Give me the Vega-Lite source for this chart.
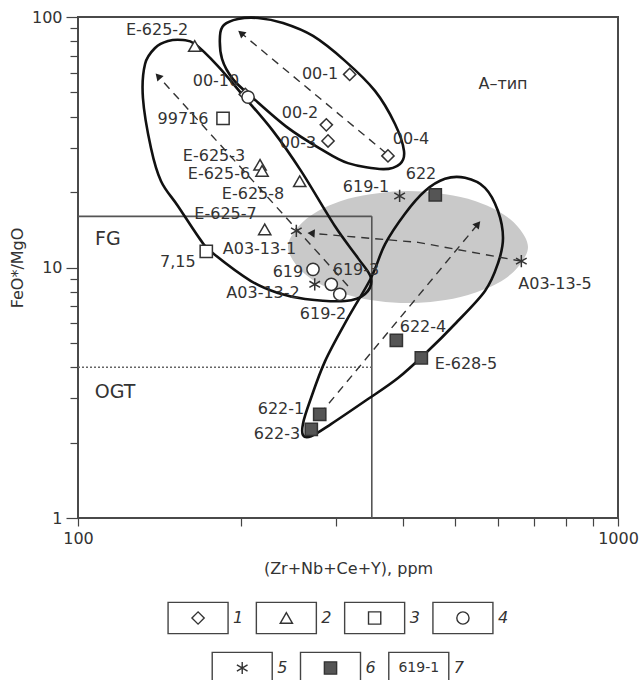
{
  "$schema": "https://vega.github.io/schema/vega-lite/v6.json",
  "padding": {"left": 8, "top": 8, "right": 0, "bottom": 0},
  "autosize": {"type": "pad"},
  "bounds": "flush",
  "spacing": 83,
  "config": {"font": "DejaVu Sans", "text": {"font": "DejaVu Sans", "color": "#333"}},
  "datasets": {
    "pts": [
      {"name": "00-1", "x": 318.5, "y": 59.0, "grp": "1"},
      {"name": "00-2", "x": 288.3, "y": 37.1, "grp": "1"},
      {"name": "00-3", "x": 290.4, "y": 32.0, "grp": "1"},
      {"name": "00-4", "x": 375.0, "y": 27.9, "grp": "1"},
      {"name": "00-10", "x": 204.1, "y": 49.1, "grp": "1"},
      {"name": "E-625-2", "x": 164.5, "y": 76.6, "grp": "2"},
      {"name": "E-625-3", "x": 217.3, "y": 25.7, "grp": "2"},
      {"name": "E-625-6", "x": 219.2, "y": 24.3, "grp": "2"},
      {"name": "E-625-8", "x": 257.4, "y": 22.1, "grp": "2"},
      {"name": "E-625-7", "x": 221.7, "y": 14.2, "grp": "2"},
      {"name": "99716", "x": 185.6, "y": 39.4, "grp": "3"},
      {"name": "7,15", "x": 172.8, "y": 11.6, "grp": "3"},
      {"name": "619", "x": 272.4, "y": 9.83, "grp": "4"},
      {"name": "619-2a", "x": 294.5, "y": 8.57, "grp": "4"},
      {"name": "619-2b", "x": 305.3, "y": 7.82, "grp": "4"},
      {"name": "00-10c", "x": 206.5, "y": 47.9, "grp": "4"},
      {"name": "619-1", "x": 394.1, "y": 19.3, "grp": "5"},
      {"name": "A03-13-1", "x": 253.7, "y": 14.0, "grp": "5"},
      {"name": "A03-13-5", "x": 662.2, "y": 10.6, "grp": "5"},
      {"name": "A03-13-2", "x": 274.4, "y": 8.57, "grp": "5"},
      {"name": "622", "x": 458.8, "y": 19.5, "grp": "6"},
      {"name": "622-4", "x": 388.6, "y": 5.12, "grp": "6"},
      {"name": "E-628-5", "x": 432.3, "y": 4.36, "grp": "6"},
      {"name": "622-1", "x": 280.3, "y": 2.59, "grp": "6"},
      {"name": "622-3", "x": 270.4, "y": 2.26, "grp": "6"}
    ],
    "lbl": [
      {"t": "E-625-2", "x": 140.1, "y": 88.7},
      {"t": "00-10", "x": 180.1, "y": 55.5},
      {"t": "99716", "x": 156.5, "y": 39.2},
      {"t": "E-625-3", "x": 178.6, "y": 27.9},
      {"t": "E-625-6", "x": 182.4, "y": 23.6},
      {"t": "E-625-8", "x": 210.9, "y": 19.7},
      {"t": "E-625-7", "x": 187.6, "y": 16.4},
      {"t": "A03-13-1", "x": 216.8, "y": 11.9},
      {"t": "7,15", "x": 153.1, "y": 10.5},
      {"t": "619", "x": 244.8, "y": 9.59},
      {"t": "619-3", "x": 327.2, "y": 9.77},
      {"t": "A03-13-2", "x": 220.1, "y": 7.91},
      {"t": "619-2", "x": 284.3, "y": 6.52},
      {"t": "00-1", "x": 280.7, "y": 59.2},
      {"t": "00-2", "x": 257.7, "y": 41.4},
      {"t": "00-3", "x": 255.5, "y": 31.4},
      {"t": "00-4", "x": 413.7, "y": 32.6},
      {"t": "622", "x": 431.7, "y": 23.6},
      {"t": "619-1", "x": 341.5, "y": 20.96},
      {"t": "A03-13-5", "x": 764.3, "y": 8.59},
      {"t": "622-4", "x": 435.4, "y": 5.79},
      {"t": "E-628-5", "x": 523.1, "y": 4.12},
      {"t": "622-1", "x": 237.6, "y": 2.72},
      {"t": "622-3", "x": 233.6, "y": 2.16}
    ],
    "big": [
      {"t": "FG", "x": 113.6, "y": 13.0},
      {"t": "OGT", "x": 117.1, "y": 3.18}
    ],
    "typ": [
      {"t": "A–тип", "x": 612.4, "y": 54.0}
    ],
    "ell": [
      {"id": "A", "o": 1, "x": 183.2, "y": 84.0},
      {"id": "A", "o": 2, "x": 186.3, "y": 92.9},
      {"id": "A", "o": 3, "x": 197.8, "y": 98.2},
      {"id": "A", "o": 4, "x": 215.4, "y": 99.1},
      {"id": "A", "o": 5, "x": 239.7, "y": 94.6},
      {"id": "A", "o": 6, "x": 272.4, "y": 84.0},
      {"id": "A", "o": 7, "x": 312.2, "y": 66.8},
      {"id": "A", "o": 8, "x": 354.8, "y": 50.7},
      {"id": "A", "o": 9, "x": 386.4, "y": 37.4},
      {"id": "A", "o": 10, "x": 401.5, "y": 29.2},
      {"id": "A", "o": 11, "x": 394.7, "y": 25.9},
      {"id": "A", "o": 12, "x": 367.2, "y": 24.7},
      {"id": "A", "o": 13, "x": 316.2, "y": 26.1},
      {"id": "A", "o": 14, "x": 281.8, "y": 29.7},
      {"id": "A", "o": 15, "x": 244.8, "y": 36.1},
      {"id": "A", "o": 16, "x": 210.9, "y": 47.5},
      {"id": "A", "o": 17, "x": 193.6, "y": 56.5},
      {"id": "A", "o": 18, "x": 184.8, "y": 68.0},
      {"id": "B", "o": 1, "x": 164.7, "y": 78.0},
      {"id": "B", "o": 2, "x": 156.5, "y": 80.9},
      {"id": "B", "o": 3, "x": 146.8, "y": 80.2},
      {"id": "B", "o": 4, "x": 138.9, "y": 75.2},
      {"id": "B", "o": 5, "x": 133.1, "y": 64.9},
      {"id": "B", "o": 6, "x": 131.9, "y": 47.5},
      {"id": "B", "o": 7, "x": 136.5, "y": 30.0},
      {"id": "B", "o": 8, "x": 142.5, "y": 22.1},
      {"id": "B", "o": 9, "x": 153.1, "y": 17.6},
      {"id": "B", "o": 10, "x": 169.0, "y": 12.8},
      {"id": "B", "o": 11, "x": 177.8, "y": 11.4},
      {"id": "B", "o": 12, "x": 209.1, "y": 8.83},
      {"id": "B", "o": 13, "x": 234.6, "y": 7.91},
      {"id": "B", "o": 14, "x": 263.3, "y": 7.49},
      {"id": "B", "o": 15, "x": 312.2, "y": 7.35},
      {"id": "B", "o": 16, "x": 340.1, "y": 7.84},
      {"id": "B", "o": 17, "x": 348.8, "y": 9.08},
      {"id": "B", "o": 18, "x": 330.0, "y": 10.9},
      {"id": "B", "o": 19, "x": 299.2, "y": 14.6},
      {"id": "B", "o": 20, "x": 258.8, "y": 24.3},
      {"id": "B", "o": 21, "x": 229.6, "y": 35.1},
      {"id": "B", "o": 22, "x": 200.4, "y": 49.7},
      {"id": "B", "o": 23, "x": 181.6, "y": 63.7},
      {"id": "C", "o": 1, "x": 348.8, "y": 9.08},
      {"id": "C", "o": 2, "x": 370.4, "y": 12.4},
      {"id": "C", "o": 3, "x": 403.2, "y": 16.4},
      {"id": "C", "o": 4, "x": 439.1, "y": 20.2},
      {"id": "C", "o": 5, "x": 478.2, "y": 22.6},
      {"id": "C", "o": 6, "x": 520.9, "y": 22.8},
      {"id": "C", "o": 7, "x": 567.1, "y": 20.8},
      {"id": "C", "o": 8, "x": 599.5, "y": 16.8},
      {"id": "C", "o": 9, "x": 612.4, "y": 13.1},
      {"id": "C", "o": 10, "x": 599.5, "y": 10.4},
      {"id": "C", "o": 11, "x": 567.1, "y": 8.06},
      {"id": "C", "o": 12, "x": 499.0, "y": 5.95},
      {"id": "C", "o": 13, "x": 444.7, "y": 4.64},
      {"id": "C", "o": 14, "x": 391.4, "y": 3.62},
      {"id": "C", "o": 15, "x": 340.1, "y": 2.93},
      {"id": "C", "o": 16, "x": 294.1, "y": 2.37},
      {"id": "C", "o": 17, "x": 270.2, "y": 2.12},
      {"id": "C", "o": 18, "x": 261.1, "y": 2.14},
      {"id": "C", "o": 19, "x": 261.1, "y": 2.39},
      {"id": "C", "o": 20, "x": 268.9, "y": 2.93},
      {"id": "C", "o": 21, "x": 286.8, "y": 4.23},
      {"id": "C", "o": 22, "x": 316.2, "y": 6.29}
    ],
    "grey": [
      {"o": 1, "x": 681.3, "y": 12.07},
      {"o": 2, "x": 652.9, "y": 14.5},
      {"o": 3, "x": 599.5, "y": 16.8},
      {"o": 4, "x": 527.6, "y": 18.8},
      {"o": 5, "x": 464.2, "y": 19.8},
      {"o": 6, "x": 408.4, "y": 20.2},
      {"o": 7, "x": 359.4, "y": 19.8},
      {"o": 8, "x": 316.2, "y": 18.8},
      {"o": 9, "x": 278.3, "y": 16.8},
      {"o": 10, "x": 255.5, "y": 14.5},
      {"o": 11, "x": 244.8, "y": 12.07},
      {"o": 12, "x": 255.5, "y": 10.05},
      {"o": 13, "x": 278.3, "y": 8.67},
      {"o": 14, "x": 316.2, "y": 7.77},
      {"o": 15, "x": 359.4, "y": 7.35},
      {"o": 16, "x": 408.4, "y": 7.21},
      {"o": 17, "x": 464.2, "y": 7.35},
      {"o": 18, "x": 527.6, "y": 7.77},
      {"o": 19, "x": 599.5, "y": 8.67},
      {"o": 20, "x": 652.9, "y": 10.05}
    ],
    "bnd": [
      {"seg": "fg", "x": 100, "y": 16},
      {"seg": "fg", "x": 350, "y": 16},
      {"seg": "v", "x": 350, "y": 1},
      {"seg": "v", "x": 350, "y": 16}
    ],
    "ogt": [
      {"seg": "ogt", "x": 100, "y": 4},
      {"seg": "ogt", "x": 350, "y": 4}
    ],
    "arr": [
      {"id": "a1", "o": 1, "x": 371.9, "y": 28.6},
      {"id": "a1", "o": 2, "x": 200.4, "y": 86.3},
      {"id": "a2", "o": 1, "x": 316.2, "y": 8.44},
      {"id": "a2", "o": 2, "x": 140.7, "y": 58.1},
      {"id": "a3", "o": 1, "x": 662.2, "y": 10.6},
      {"id": "a3", "o": 2, "x": 426.3, "y": 12.6},
      {"id": "a3", "o": 3, "x": 270.2, "y": 13.7},
      {"id": "a4", "o": 1, "x": 280.7, "y": 2.6},
      {"id": "a4", "o": 2, "x": 550.3, "y": 14.9}
    ],
    "heads": [
      {"id": "a1", "x": 200.4, "y": 86.3},
      {"id": "a2", "x": 140.7, "y": 58.1},
      {"id": "a3", "x": 270.2, "y": 13.7},
      {"id": "a4", "x": 550.3, "y": 14.9}
    ],
    "leg": [
      {"k": "1", "row": "a"},
      {"k": "2", "row": "a"},
      {"k": "3", "row": "a"},
      {"k": "4", "row": "a"},
      {"k": "5", "row": "b"},
      {"k": "6", "row": "b"},
      {"k": "7", "row": "b", "inner": "619-1"}
    ]
  },
  "vconcat": [
    {
      "width": 540,
      "height": 501,
      "view": {"stroke": "#4a4a4a", "strokeWidth": 2},
      "encoding": {
        "x": {
          "field": "x", "type": "quantitative",
          "scale": {"type": "log", "domain": [100, 1000], "nice": false},
          "axis": {
            "title": "(Zr+Nb+Ce+Y), ppm",
            "values": [100, 200, 300, 400, 500, 600, 700, 800, 900, 1000],
            "labelExpr": "datum.value == 100 ? '100' : (datum.value == 1000 ? '1000' : '')",
            "domain": false, "grid": false,
            "tickSize": 8, "tickColor": "#444", "tickWidth": 1.2,
            "labelFontSize": 16, "labelColor": "#333", "labelPadding": 4,
            "labelFlush": false, "labelOverlap": false, "labelBound": false,
            "titleFontSize": 16, "titleFontWeight": "normal", "titleColor": "#333", "titlePadding": 14
          }
        },
        "y": {
          "field": "y", "type": "quantitative",
          "scale": {"type": "log", "domain": [1, 100], "nice": false},
          "axis": {
            "title": "FeO*/MgO",
            "values": [1, 2, 3, 4, 5, 6, 7, 8, 9, 10, 20, 30, 40, 50, 60, 70, 80, 90, 100],
            "labelExpr": "datum.value == 1 ? '1' : (datum.value == 10 ? '10' : (datum.value == 100 ? '100' : ''))",
            "domain": false, "grid": false,
            "tickSize": {"condition": {"test": "datum.value == 1 || datum.value == 10 || datum.value == 100", "value": 12}, "value": 8},
            "tickColor": "#444", "tickWidth": 1.2,
            "labelFontSize": 16, "labelColor": "#333", "labelPadding": 4,
            "labelFlush": false, "labelOverlap": false, "labelBound": false,
            "titleFontSize": 16, "titleFontWeight": "normal", "titleColor": "#333", "titlePadding": 6
          }
        }
      },
      "layer": [
        {
          "data": {"name": "grey"},
          "mark": {"type": "line", "interpolate": "cardinal-closed", "fill": "#c9c9c9", "stroke": null, "strokeWidth": 0},
          "encoding": {"order": {"field": "o", "type": "quantitative"}}
        },
        {
          "data": {"name": "bnd"},
          "mark": {"type": "line", "color": "#555", "strokeWidth": 1.6},
          "encoding": {"detail": {"field": "seg"}}
        },
        {
          "data": {"name": "ogt"},
          "mark": {"type": "line", "color": "#666", "strokeWidth": 1.6, "strokeDash": [2, 2]},
          "encoding": {}
        },
        {
          "data": {"name": "ell"},
          "mark": {"type": "line", "interpolate": "cardinal-closed", "color": "#111", "strokeWidth": 2.6},
          "encoding": {"detail": {"field": "id"}, "order": {"field": "o", "type": "quantitative"}}
        },
        {
          "data": {"name": "arr"},
          "mark": {"type": "line", "color": "#333", "strokeWidth": 1.4, "strokeDash": [8, 6]},
          "encoding": {"detail": {"field": "id"}, "order": {"field": "o", "type": "quantitative"}}
        },
        {
          "data": {"name": "heads"},
          "transform": [{"filter": "datum.id == 'a1'"}],
          "mark": {"type": "point", "shape": "triangle-up", "filled": true, "color": "#222", "size": 70, "angle": 310, "opacity": 1}
        },
        {
          "data": {"name": "heads"},
          "transform": [{"filter": "datum.id == 'a2'"}],
          "mark": {"type": "point", "shape": "triangle-up", "filled": true, "color": "#222", "size": 70, "angle": 318, "opacity": 1}
        },
        {
          "data": {"name": "heads"},
          "transform": [{"filter": "datum.id == 'a3'"}],
          "mark": {"type": "point", "shape": "triangle-up", "filled": true, "color": "#222", "size": 70, "angle": 274, "opacity": 1}
        },
        {
          "data": {"name": "heads"},
          "transform": [{"filter": "datum.id == 'a4'"}],
          "mark": {"type": "point", "shape": "triangle-up", "filled": true, "color": "#222", "size": 70, "angle": 40, "opacity": 1}
        },
        {
          "data": {"name": "pts"},
          "mark": {"type": "point", "stroke": "#333", "strokeWidth": 1.5, "opacity": 1},
          "encoding": {
            "shape": {"field": "grp", "type": "nominal", "legend": null,
              "scale": {"domain": ["1", "2", "3", "4", "5", "6"],
                "range": ["diamond", "triangle-up", "square", "circle", "M0,-1V1M-0.87,-0.5L0.87,0.5M-0.87,0.5L0.87,-0.5", "square"]}},
            "size": {"field": "grp", "type": "nominal", "legend": null,
              "scale": {"domain": ["1", "2", "3", "4", "5", "6"], "range": [150, 150, 180, 85, 150, 180]}},
            "fill": {"condition": {"test": "datum.grp == '6'", "value": "#555"}, "value": "white"}
          }
        },
        {
          "data": {"name": "lbl"},
          "mark": {"type": "text", "fontSize": 16, "align": "center", "baseline": "middle", "color": "#333"},
          "encoding": {"text": {"field": "t"}}
        },
        {
          "data": {"name": "big"},
          "mark": {"type": "text", "fontSize": 19, "align": "center", "baseline": "middle", "color": "#333"},
          "encoding": {"text": {"field": "t"}}
        },
        {
          "data": {"name": "typ"},
          "mark": {"type": "text", "fontSize": 16, "align": "center", "baseline": "middle", "color": "#333"},
          "encoding": {"text": {"field": "t"}}
        }
      ]
    },
    {
      "width": 540,
      "height": 84,
      "view": {"stroke": null},
      "data": {"name": "leg"},
      "encoding": {
        "x": {"field": "k", "type": "ordinal", "axis": null,
          "scale": {"type": "point", "domain": ["1", "5", "2", "6", "3", "7", "4"], "range": [98, 407]}},
        "y": {"field": "row", "type": "ordinal", "axis": null,
          "scale": {"type": "point", "domain": ["a", "b"], "padding": 0.34}}
      },
      "layer": [
        {
          "mark": {"type": "point", "shape": "M-1,-0.52H1V0.52H-1Z", "size": 3600, "filled": false, "stroke": "#444", "strokeWidth": 1.4, "opacity": 1}
        },
        {
          "transform": [{"filter": "datum.k != '7'"}],
          "mark": {"type": "point", "stroke": "#333", "strokeWidth": 1.4, "opacity": 1},
          "encoding": {
            "shape": {"field": "k", "type": "nominal", "legend": null,
              "scale": {"domain": ["1", "2", "3", "4", "5", "6"],
                "range": ["diamond", "triangle-up", "square", "circle", "M0,-1V1M-0.87,-0.5L0.87,0.5M-0.87,0.5L0.87,-0.5", "square"]}},
            "size": {"field": "k", "type": "nominal", "legend": null,
              "scale": {"domain": ["1", "2", "3", "4", "5", "6"], "range": [170, 150, 169, 90, 150, 169]}},
            "fill": {"condition": {"test": "datum.k == '6'", "value": "#555"}, "value": "white"}
          }
        },
        {
          "mark": {"type": "text", "fontSize": 16, "fontStyle": "italic", "align": "left", "baseline": "middle", "dx": 35, "color": "#333"},
          "encoding": {"text": {"field": "k"}}
        },
        {
          "transform": [{"filter": "datum.k == '7'"}],
          "mark": {"type": "text", "fontSize": 14, "align": "center", "baseline": "middle", "color": "#333"},
          "encoding": {"text": {"field": "inner"}}
        }
      ]
    }
  ]
}
